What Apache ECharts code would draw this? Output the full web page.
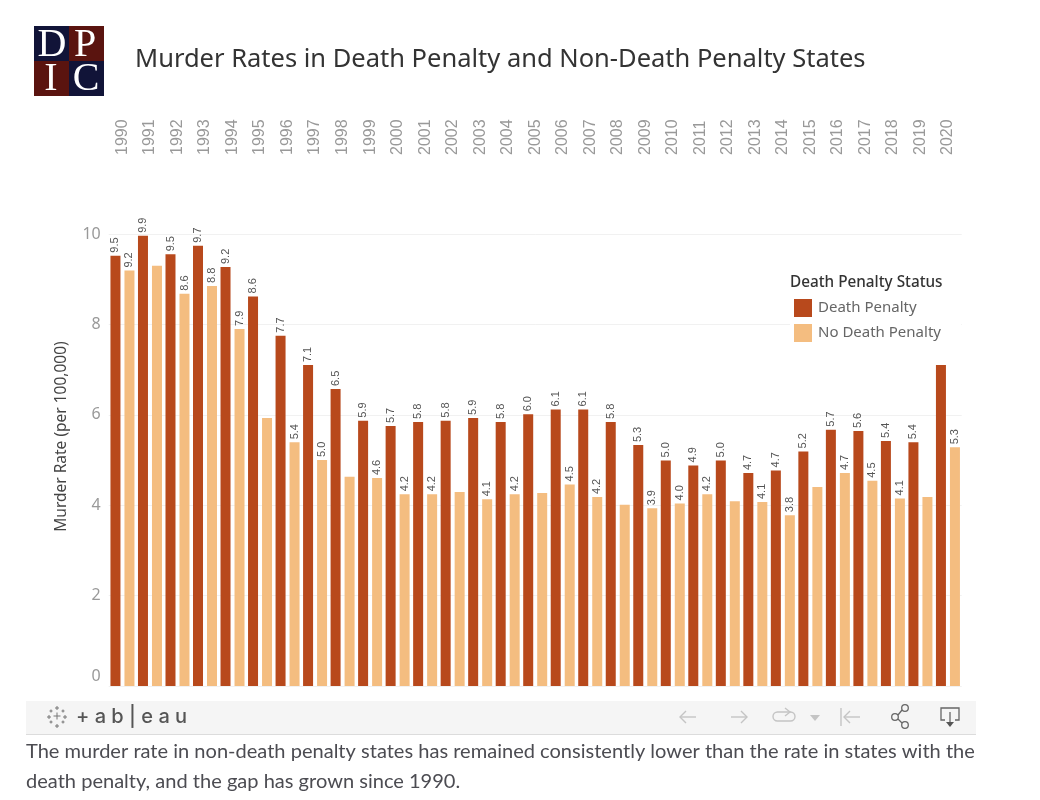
<!DOCTYPE html>
<html lang="en">
<head>
<meta charset="utf-8">
<title>Murder Rates in Death Penalty and Non-Death Penalty States</title>
<script src="https://cdn.jsdelivr.net/npm/echarts@6/dist/echarts.min.js"></script>
<style>
  html, body { margin: 0; padding: 0; background: #fff; }
  #chart { width: 1040px; height: 800px; }
</style>
</head>
<body>
<div id="chart"></div>
<script>
var years = ['1990','1991','1992','1993','1994','1995','1996','1997','1998','1999','2000',
  '2001','2002','2003','2004','2005','2006','2007','2008','2009','2010',
  '2011','2012','2013','2014','2015','2016','2017','2018','2019','2020'];

// bar heights
var deathRates = [9.52,9.96,9.55,9.74,9.27,8.62,7.75,7.10,6.57,5.87,5.75,
  5.84,5.87,5.93,5.84,6.01,6.12,6.12,5.84,5.33,4.99,
  4.88,4.99,4.71,4.77,5.19,5.67,5.64,5.42,5.39,7.10];
var noDeathRates = [9.19,9.30,8.68,8.85,7.90,5.93,5.39,5.00,4.63,4.60,4.24,
  4.24,4.29,4.13,4.24,4.27,4.46,4.18,4.01,3.93,4.04,
  4.24,4.09,4.07,3.78,4.40,4.71,4.54,4.15,4.18,5.28];

// labels as printed, some bars have none
var deathLabels = ['9.5','9.9','9.5','9.7','9.2','8.6','7.7','7.1','6.5','5.9','5.7',
  '5.8','5.8','5.9','5.8','6.0','6.1','6.1','5.8','5.3','5.0',
  '4.9','5.0','4.7','4.7','5.2','5.7','5.6','5.4','5.4',''];
var noDeathLabels = ['9.2','','8.6','8.8','7.9','','5.4','5.0','','4.6','4.2',
  '4.2','','4.1','4.2','','4.5','4.2','','3.9','4.0',
  '4.2','','4.1','3.8','','4.7','4.5','4.1','','5.3'];

var DARK = '#b8491c', LIGHT = '#f4bd80';

function barLabel(list) {
  return {
    show: true,
    position: 'top',
    rotate: 90,
    distance: 3,
    align: 'left',
    verticalAlign: 'middle',
    fontFamily: 'Liberation Sans',
    fontSize: 11,
    color: '#555',
    formatter: function (p) { return list[p.dataIndex]; }
  };
}

function logoSquare(x, y, color) {
  return { type: 'rect', shape: { x: x, y: y, width: 35, height: 35 }, style: { fill: color }, z: 20 };
}
function logoLetter(ch, x, y) {
  return { type: 'text', z: 21, style: { text: ch, x: x, y: y, fill: '#fff', font: '40px "Liberation Serif"', align: 'center', verticalAlign: 'middle' } };
}
function stroke(points, color, width) {
  return { type: 'polyline', z: 21, shape: { points: points }, style: { fill: 'none', stroke: color, lineWidth: width || 1.4 } };
}
function ringAt(cx, cy) {
  return { type: 'circle', z: 21, shape: { cx: cx, cy: cy, r: 3.3 }, style: { fill: 'none', stroke: '#666', lineWidth: 1.3 } };
}
// one small cross of the tableau mark
function plus(cx, cy, r) {
  return [stroke([[cx - r, cy], [cx + r, cy]], '#777', 1), stroke([[cx, cy - r], [cx, cy + r]], '#777', 1)];
}

var markParts = [].concat(plus(57, 708, 2), plus(51, 711, 1.5), plus(63, 711, 1.5), plus(57, 716, 3.5),
  plus(49, 717, 2), plus(65, 717, 2), plus(51, 722, 1.5), plus(63, 722, 1.5), plus(57, 726, 2));

var chart = echarts.init(document.getElementById('chart'));
chart.setOption({
  animation: false,
  backgroundColor: '#fff',
  title: {
    text: 'Murder Rates in Death Penalty and Non-Death Penalty States',
    left: 135,
    top: 47,
    padding: 0,
    textStyle: { fontFamily: 'Noto Sans', fontWeight: 'normal', fontSize: 25.5, color: '#333' }
  },
  grid: { left: 108.7, right: 78.3, top: 234, bottom: 114, containLabel: false },
  legend: {
    left: 790,
    top: 269,
    padding: [30, 20, 5, 4],
    backgroundColor: '#fff',
    orient: 'vertical',
    itemWidth: 18,
    itemHeight: 18,
    itemGap: 7,
    icon: 'rect',
    textStyle: { fontFamily: 'Noto Sans', fontSize: 15, color: '#666', padding: [2, 0, 0, 1] },
    data: ['Death Penalty', 'No Death Penalty']
  },
  xAxis: {
    type: 'category',
    position: 'top',
    data: years,
    axisLine: { show: false },
    axisTick: { show: false },
    axisLabel: {
      rotate: 90,
      margin: 79,
      interval: 0,
      padding: [4, 0, 0, 0],
      fontFamily: 'Liberation Sans',
      fontSize: 16,
      color: '#999'
    }
  },
  yAxis: {
    type: 'value',
    min: 0,
    max: 10,
    interval: 2,
    name: 'Murder Rate (per 100,000)',
    nameLocation: 'middle',
    nameGap: 39,
    nameTextStyle: { fontFamily: 'Noto Sans', fontSize: 15.5, color: '#444', padding: [0, 0, 0, 47] },
    axisLine: { show: false },
    axisTick: { show: false },
    splitLine: { lineStyle: { color: '#f1f1f1', width: 1 } },
    axisLabel: {
      margin: 8,
      verticalAlignMinLabel: 'bottom',
      lineHeight: 20,
      padding: [2, 0, 0, 0],
      fontFamily: 'Noto Sans',
      fontSize: 16,
      color: '#999'
    }
  },
  series: [
    { name: 'Death Penalty', type: 'bar', data: deathRates, barWidth: 10, barGap: '40%',
      itemStyle: { color: DARK }, label: barLabel(deathLabels) },
    { name: 'No Death Penalty', type: 'bar', data: noDeathRates, barWidth: 10,
      itemStyle: { color: LIGHT }, label: barLabel(noDeathLabels) }
  ],
  graphic: [
    // legend heading
    { type: 'text', z: 30, style: { text: 'Death Penalty Status', x: 790, y: 283, fill: '#333',
      font: '500 15.3px "Noto Sans"', verticalAlign: 'middle' } },

    // DPIC logo
    { type: 'rect', shape: { x: 34, y: 26, width: 70, height: 70 }, style: { fill: '#111438' }, z: 20 },
    logoSquare(69, 26, '#5a140f'),
    logoSquare(34, 61, '#5a140f'),
    logoLetter('D', 52, 45),
    logoLetter('P', 85, 45),
    logoLetter('I', 51, 79),
    logoLetter('C', 86, 79),

    // toolbar
    { type: 'rect', z: 20, shape: { x: 26, y: 701, width: 950, height: 33 }, style: { fill: '#f5f5f5' } },
    { type: 'rect', z: 20, shape: { x: 26, y: 734, width: 950, height: 1 }, style: { fill: '#dcdcdc' } }
  ].concat(markParts, [
    { type: 'text', z: 21, style: { text: '+ a b | e a u', x: 76, y: 717, fill: '#555',
      font: '500 20px "Inter"', verticalAlign: 'middle' } },
    stroke([[696, 717], [680, 717]], '#c4c4c4'),
    stroke([[686, 711], [680, 717], [686, 723]], '#c4c4c4'),
    stroke([[731, 717], [747, 717]], '#c4c4c4'),
    stroke([[741, 711], [747, 717], [741, 723]], '#c4c4c4'),
    { type: 'rect', z: 21, shape: { x: 773, y: 712, width: 22, height: 9, r: 4.5 }, style: { fill: 'none', stroke: '#c4c4c4', lineWidth: 1.4 } },
    stroke([[785, 708], [790, 712], [785, 716]], '#c4c4c4'),
    { type: 'polygon', z: 21, shape: { points: [[810, 715], [820, 715], [815, 721]] }, style: { fill: '#c4c4c4' } },
    stroke([[841, 708], [841, 726]], '#c4c4c4'),
    stroke([[860, 717], [844, 717]], '#c4c4c4'),
    stroke([[850, 711], [844, 717], [850, 723]], '#c4c4c4'),
    ringAt(895, 717),
    ringAt(905, 708),
    ringAt(905, 725),
    stroke([[898, 715], [902, 710]], '#666', 1.3),
    stroke([[898, 719], [902, 723]], '#666', 1.3),
    stroke([[945, 720], [941, 720], [941, 708], [959, 708], [959, 720], [955, 720]], '#666', 1.3),
    stroke([[950, 712], [950, 722]], '#666', 1.3),
    { type: 'polygon', z: 21, shape: { points: [[946, 722], [954, 722], [950, 727]] }, style: { fill: '#555' } },

    // caption below the viz
    { type: 'text', z: 21, style: {
      text: 'The murder rate in non-death penalty states has remained consistently lower than the rate in states with the\ndeath penalty, and the gap has grown since 1990.',
      x: 26, y: 737, fill: '#4c4c52', font: '20.06px Lato', lineHeight: 30 } }
  ])
});
</script>
</body>
</html>
